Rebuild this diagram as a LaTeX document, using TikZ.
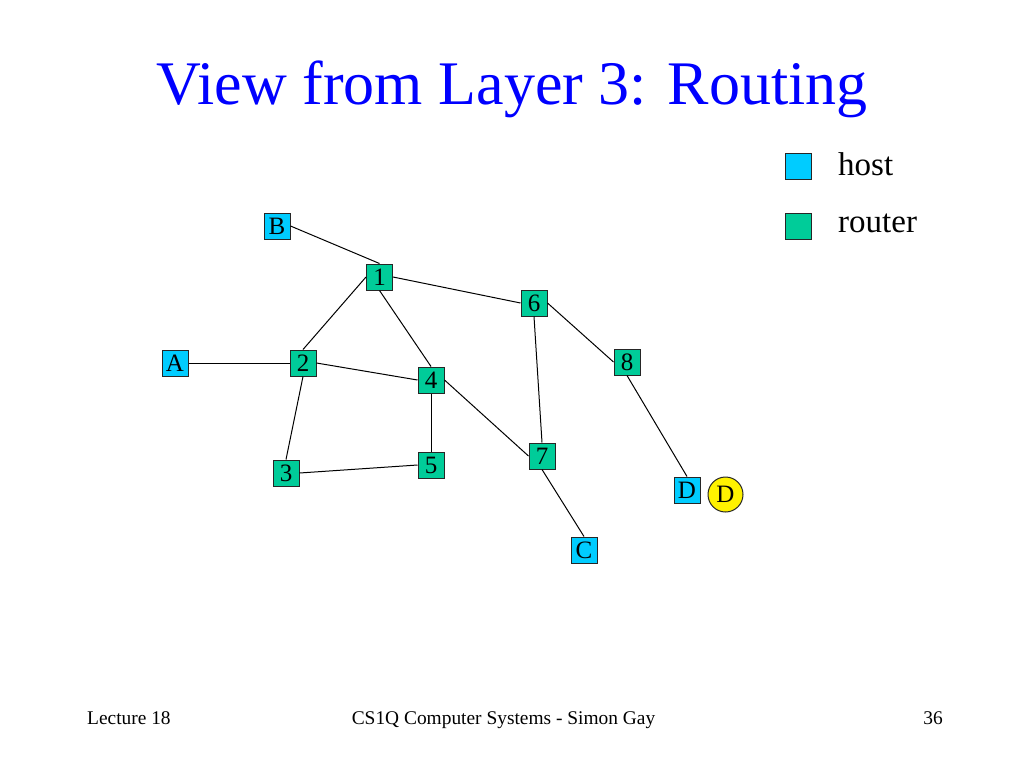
\documentclass[tikz,border=0pt]{standalone}
\usepackage{fontspec}
\setmainfont{Liberation Serif}
\definecolor{hostc}{HTML}{00CCFF}
\definecolor{routerc}{HTML}{00CC99}
\definecolor{titleblue}{HTML}{0000FF}
\begin{document}
\begin{tikzpicture}[x=1pt,y=-1pt,
  box/.style={draw=black!85,line width=1pt,minimum width=26pt,minimum height=26pt,inner sep=0pt,font=\fontsize{25}{25}\selectfont},
  host/.style={box,fill=hostc},
  router/.style={box,fill=routerc},
  link/.style={draw=black,line width=1pt},
  foot/.style={font=\fontsize{19.4}{22}\selectfont,anchor=base,inner sep=0pt},
  legend/.style={font=\fontsize{33}{35}\selectfont,anchor=base west,inner sep=0pt}]
\useasboundingbox (0,0) rectangle (1024,768);
% title
\node[anchor=base,inner sep=0pt,text=titleblue,font=\fontsize{62}{66}\selectfont] (title) at (512,104) {View from Layer 3: Routing};
% legend
\node[host] (lhost) at (798,166) {};
\node[legend] (lhosttxt) at (838,175) {host};
\node[router] (lrouter) at (798,226) {};
\node[legend] (lroutertxt) at (838,232) {router};
% nodes
\node[host] (B) at (277,226) {B};
\node[host] (A) at (175,363) {A};
\node[host] (C) at (584,550) {C};
\node[host] (D) at (687,490) {D};
\node[draw=black!85,line width=1pt,fill=yellow,circle,minimum size=35pt,inner sep=0pt,font=\fontsize{25}{25}\selectfont] (Dc) at (725.5,494.5) {D};
\node[router] (n1) at (379.5,277) {1};
\node[router] (n2) at (303,363) {2};
\node[router] (n3) at (286,473) {3};
\node[router] (n4) at (431,380) {4};
\node[router] (n5) at (431,465) {5};
\node[router] (n6) at (534,303) {6};
\node[router] (n7) at (542,456) {7};
\node[router] (n8) at (627,362) {8};
% links
\path[link] (B.east) -- (n1.north);
\path[link] (n1.east) -- (n6.west);
\path[link] (n1.west) -- (n2.north);
\path[link] (n1.south) -- (n4.north);
\path[link] (A.east) -- (n2.west);
\path[link] (n2.east) -- (n4.west);
\path[link] (n2.south) -- (n3.north);
\path[link] (n3.east) -- (n5.west);
\path[link] (n4.south) -- (n5.north);
\path[link] (n4.east) -- (n7.west);
\path[link] (n6.south) -- (n7.north);
\path[link] (n6.east) -- (n8.west);
\path[link] (n8.south) -- (D.north);
\path[link] (n7.south) -- (C.north);
% footer
\node[foot,anchor=base west] (lect) at (87,724) {Lecture 18};
\node[foot] (course) at (503.5,724) {CS1Q Computer Systems - Simon Gay};
\node[foot,anchor=base east] (page) at (943,724) {36};
\end{tikzpicture}
\end{document}
